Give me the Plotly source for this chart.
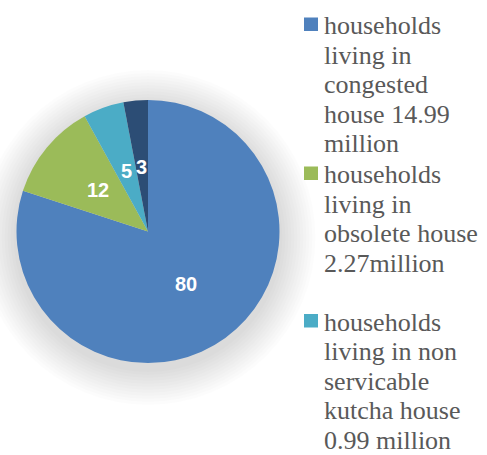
import math
import plotly.graph_objects as go

# ---- data ----
labels = [
    "households<br>living in<br>congested<br>house 14.99<br>million",
    "households<br>living in<br>obsolete house<br>2.27million",
    "households<br>living in non<br>servicable<br>kutcha house<br>0.99 million",
    "households<br>living in others",
]
values = [80, 12, 5, 3]
colors = ["#4F81BD", "#9BBB59", "#4BACC6", "#2C4D75"]
legend_shown = 3  # entries visible in the picture

W, H = 487, 455

def fx(px):
    return px / W

def fy(py):
    return 1 - py / H

# pie geometry (pixels)
cx, cy, R = 148, 231.5, 131.5

fig = go.Figure()
fig.add_trace(go.Pie(
    labels=[l.replace("<br>", " ") for l in labels],
    values=values,
    sort=False,
    direction="clockwise",
    rotation=0,
    marker=dict(colors=colors, line=dict(width=0)),
    textinfo="none",
    domain=dict(x=[fx(cx - R), fx(cx + R)], y=[fy(cy + R), fy(cy - R)]),
    showlegend=False,
    hoverinfo="label+value",
))

shapes = []
annotations = []

# soft shadow behind the pie
scx, scy = cx, cy + 6
for k in range(12, 0, -1):
    r = R + 3 * k
    shapes.append(dict(
        type="circle", xref="paper", yref="paper", layer="below",
        x0=fx(scx - r), x1=fx(scx + r), y0=fy(scy + r), y1=fy(scy - r),
        fillcolor="rgba(0,0,0,0.011)", line=dict(width=0),
    ))

# data labels at the middle of each slice (clockwise from 12 o'clock)
total = sum(values)
cum = 0
for v in values:
    mid = (cum + v / 2) / total * 2 * math.pi
    cum += v
    rr = 0.49 * R
    px = cx + rr * math.sin(mid)
    py = cy - rr * math.cos(mid)
    annotations.append(dict(
        text=f"<b>{v}</b>", xref="paper", yref="paper",
        x=fx(px), y=fy(py), xanchor="center", yanchor="middle",
        showarrow=False,
        font=dict(family="Liberation Sans", size=20, color="white"),
    ))

# legend (only the entries visible in the picture), one text line per annotation
entry_baselines = [34.5, 183.5, 331]
line_step = 29.5
fs = 26
for i in range(legend_shown):
    base = entry_baselines[i]
    shapes.append(dict(
        type="rect", xref="paper", yref="paper",
        x0=fx(304), x1=fx(318), y0=fy(base - 3.5), y1=fy(base - 17),
        fillcolor=colors[i], line=dict(width=0),
    ))
    for j, line in enumerate(labels[i].split("<br>")):
        b = base + j * line_step
        annotations.append(dict(
            text=line, xref="paper", yref="paper",
            x=fx(321.5), y=fy(b - 0.338 * fs), xanchor="left", yanchor="middle",
            align="left", showarrow=False,
            font=dict(family="Liberation Serif", size=fs, color="#595959"),
        ))

fig.update_layout(
    width=W, height=H,
    margin=dict(l=0, r=0, t=0, b=0),
    paper_bgcolor="white",
    plot_bgcolor="white",
    shapes=shapes,
    annotations=annotations,
)

fig.write_html("out.html")
